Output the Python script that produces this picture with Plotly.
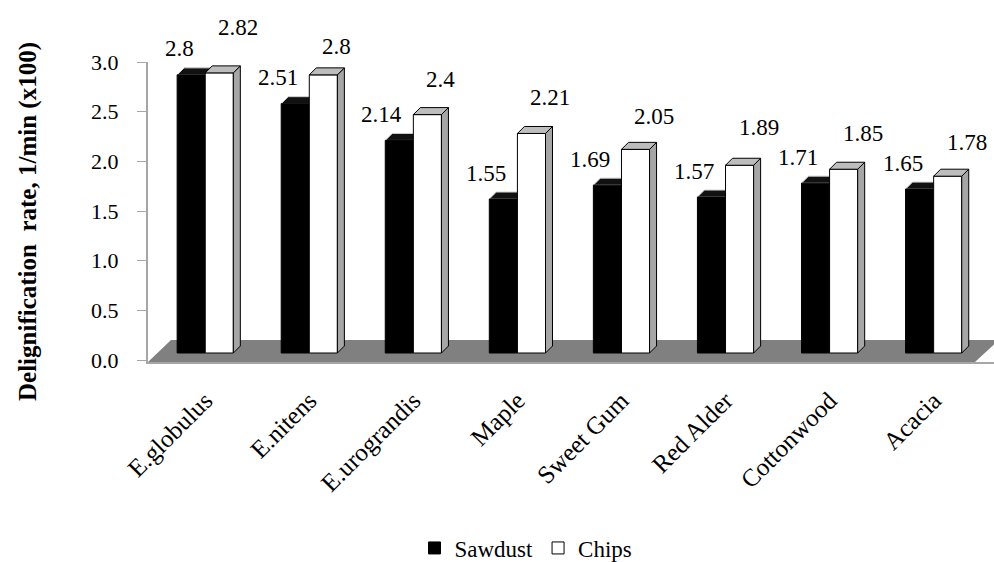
import plotly.graph_objects as go

# ---------------- data ----------------
categories = ["E.globulus", "E.nitens", "E.urograndis", "Maple",
              "Sweet Gum", "Red Alder", "Cottonwood", "Acacia"]
sawdust = [2.8, 2.51, 2.14, 1.55, 1.69, 1.57, 1.71, 1.65]
chips = [2.82, 2.8, 2.4, 2.21, 2.05, 1.89, 1.85, 1.78]
y_tick_vals = [0.0, 0.5, 1.0, 1.5, 2.0, 2.5, 3.0]
y_tick_text = ["0.0", "0.5", "1.0", "1.5", "2.0", "2.5", "3.0"]
series_names = ["Sawdust", "Chips"]
y_title = "Delignification  rate, 1/min (x100)"

# ---------------- layout geometry / styles ----------------
W, H = 994, 562
ML, MR, MT, MB = 148, 0, 62, 200
plot_w = W - ML - MR
plot_h = H - MT - MB
x_range = [-0.55, 7.58]
px_x = plot_w / (x_range[1] - x_range[0])          # px per category unit
y_range = [-0.0201, 3.0]
px_y = plot_h / (y_range[1] - y_range[0])          # px per value unit
bar_drop_px = 7                                     # front faces sit lower than the back wall
y2_range = [y_range[0] - bar_drop_px / px_y, y_range[1] - bar_drop_px / px_y]

BAR_W = 0.27
DEPTH_PX = 7
dx = DEPTH_PX / px_x
dy = DEPTH_PX / px_y

SERIF = "Liberation Serif"
FLOOR = "#808080"
SIDE = "#a6a6a6"
TOPC = "#bdbdbd"
AXIS = "#a6a6a6"

xs = list(range(len(categories)))

fig = go.Figure()
fig.add_trace(go.Bar(
    x=[i - BAR_W / 2 for i in xs], y=sawdust, width=BAR_W, name=series_names[0],
    marker=dict(color="#000000", line=dict(color="#000000", width=1)),
    yaxis="y2", hoverinfo="skip"))
fig.add_trace(go.Bar(
    x=[i + BAR_W / 2 for i in xs], y=chips, width=BAR_W, name=series_names[1],
    marker=dict(color="#ffffff", line=dict(color="#000000", width=1)),
    yaxis="y2", hoverinfo="skip"))


def poly(pts):
    return "M " + " L ".join(f"{a},{b}" for a, b in pts) + " Z"


shapes = []
# floor
floor_back = (y_range[0] * px_y + 22) / px_y
shapes.append(dict(type="path", xref="x", yref="y", layer="below",
                   path=poly([(x_range[0], y_range[0]),
                              (x_range[0] + 23 / px_x, floor_back),
                              (x_range[1] + 5 / px_x, floor_back),
                              (x_range[1] - 19 / px_x, y_range[0])]),
                   fillcolor=FLOOR, line=dict(width=0)))

for i, (s, c) in enumerate(zip(sawdust, chips)):
    # sawdust bar depth faces (behind chips bar)
    x0, x1 = i - BAR_W, i
    shapes.append(dict(type="path", xref="x", yref="y2", layer="below",
                       path=poly([(x1, 0), (x1 + dx, dy), (x1 + dx, s + dy), (x1, s)]),
                       fillcolor="#333333", line=dict(color="#000000", width=1)))
    shapes.append(dict(type="path", xref="x", yref="y2", layer="below",
                       path=poly([(x0, s), (x1, s), (x1 + dx, s + dy), (x0 + dx, s + dy)]),
                       fillcolor="#111111", line=dict(color="#d0d0d0", width=1)))
    # chips bar depth faces
    x0, x1 = i, i + BAR_W
    shapes.append(dict(type="path", xref="x", yref="y2", layer="above",
                       path=poly([(x1, 0), (x1 + dx, dy), (x1 + dx, c + dy), (x1, c)]),
                       fillcolor=SIDE, line=dict(color="#000000", width=1)))
    shapes.append(dict(type="path", xref="x", yref="y2", layer="above",
                       path=poly([(x0, c), (x1, c), (x1 + dx, c + dy), (x0 + dx, c + dy)]),
                       fillcolor=TOPC, line=dict(color="#000000", width=1)))

# data labels
chips_lift = [45, 28, 35, 36, 33, 38, 36, 34]
annotations = []
for i, (s, c) in enumerate(zip(sawdust, chips)):
    annotations.append(dict(x=i - BAR_W, y=s, xref="x", yref="y2", text=f"{s:g}",
                            showarrow=False, xanchor="right", yanchor="middle",
                            xshift=19, yshift=26,
                            font=dict(family=SERIF, size=23, color="#000000")))
    annotations.append(dict(x=i, y=c, xref="x", yref="y2", text=f"{c:g}",
                            showarrow=False, xanchor="left", yanchor="middle",
                            xshift=11, yshift=chips_lift[i],
                            font=dict(family=SERIF, size=23, color="#000000")))

# y-axis title as rotated annotation
annotations.append(dict(x=-(ML - 28) / plot_w, y=(plot_h - (222 - MT)) / plot_h,
                        xref="paper", yref="paper", text=f"<b>{y_title}</b>",
                        textangle=-90, showarrow=False, xanchor="center", yanchor="middle",
                        font=dict(family=SERIF, size=25, color="#000000")))

fig.update_layout(
    width=W, height=H,
    margin=dict(l=ML, r=MR, t=MT, b=MB, autoexpand=False),
    paper_bgcolor="#ffffff", plot_bgcolor="#ffffff",
    barmode="overlay",
    showlegend=True,
    font=dict(family=SERIF, color="#000000"),
    legend=dict(orientation="h", xref="container", yref="container",
                x=526 / W, xanchor="center", y=(H - 548) / H, yanchor="middle",
                font=dict(family=SERIF, size=23, color="#000000"),
                itemwidth=30, tracegroupgap=0, bgcolor="rgba(0,0,0,0)"),
    xaxis=dict(range=x_range, tickmode="array", tickvals=xs, ticktext=categories,
               tickangle=-45, showgrid=False, zeroline=False, automargin=False,
               showline=True, linecolor=AXIS, linewidth=2, ticks="",
               ticklabelstandoff=12,
               tickfont=dict(family=SERIF, size=25, color="#000000")),
    yaxis=dict(range=y_range, tickmode="array", tickvals=y_tick_vals, ticktext=y_tick_text,
               showgrid=False, zeroline=False, showline=True, linecolor=AXIS, linewidth=2,
               automargin=False,
               ticks="outside", ticklen=9, tickcolor=AXIS, tickwidth=1,
               ticklabelstandoff=14,
               tickfont=dict(family=SERIF, size=22, color="#000000")),
    yaxis2=dict(range=y2_range, overlaying="y", visible=False),
    shapes=shapes,
    annotations=annotations,
)

fig.write_html("out.html")
